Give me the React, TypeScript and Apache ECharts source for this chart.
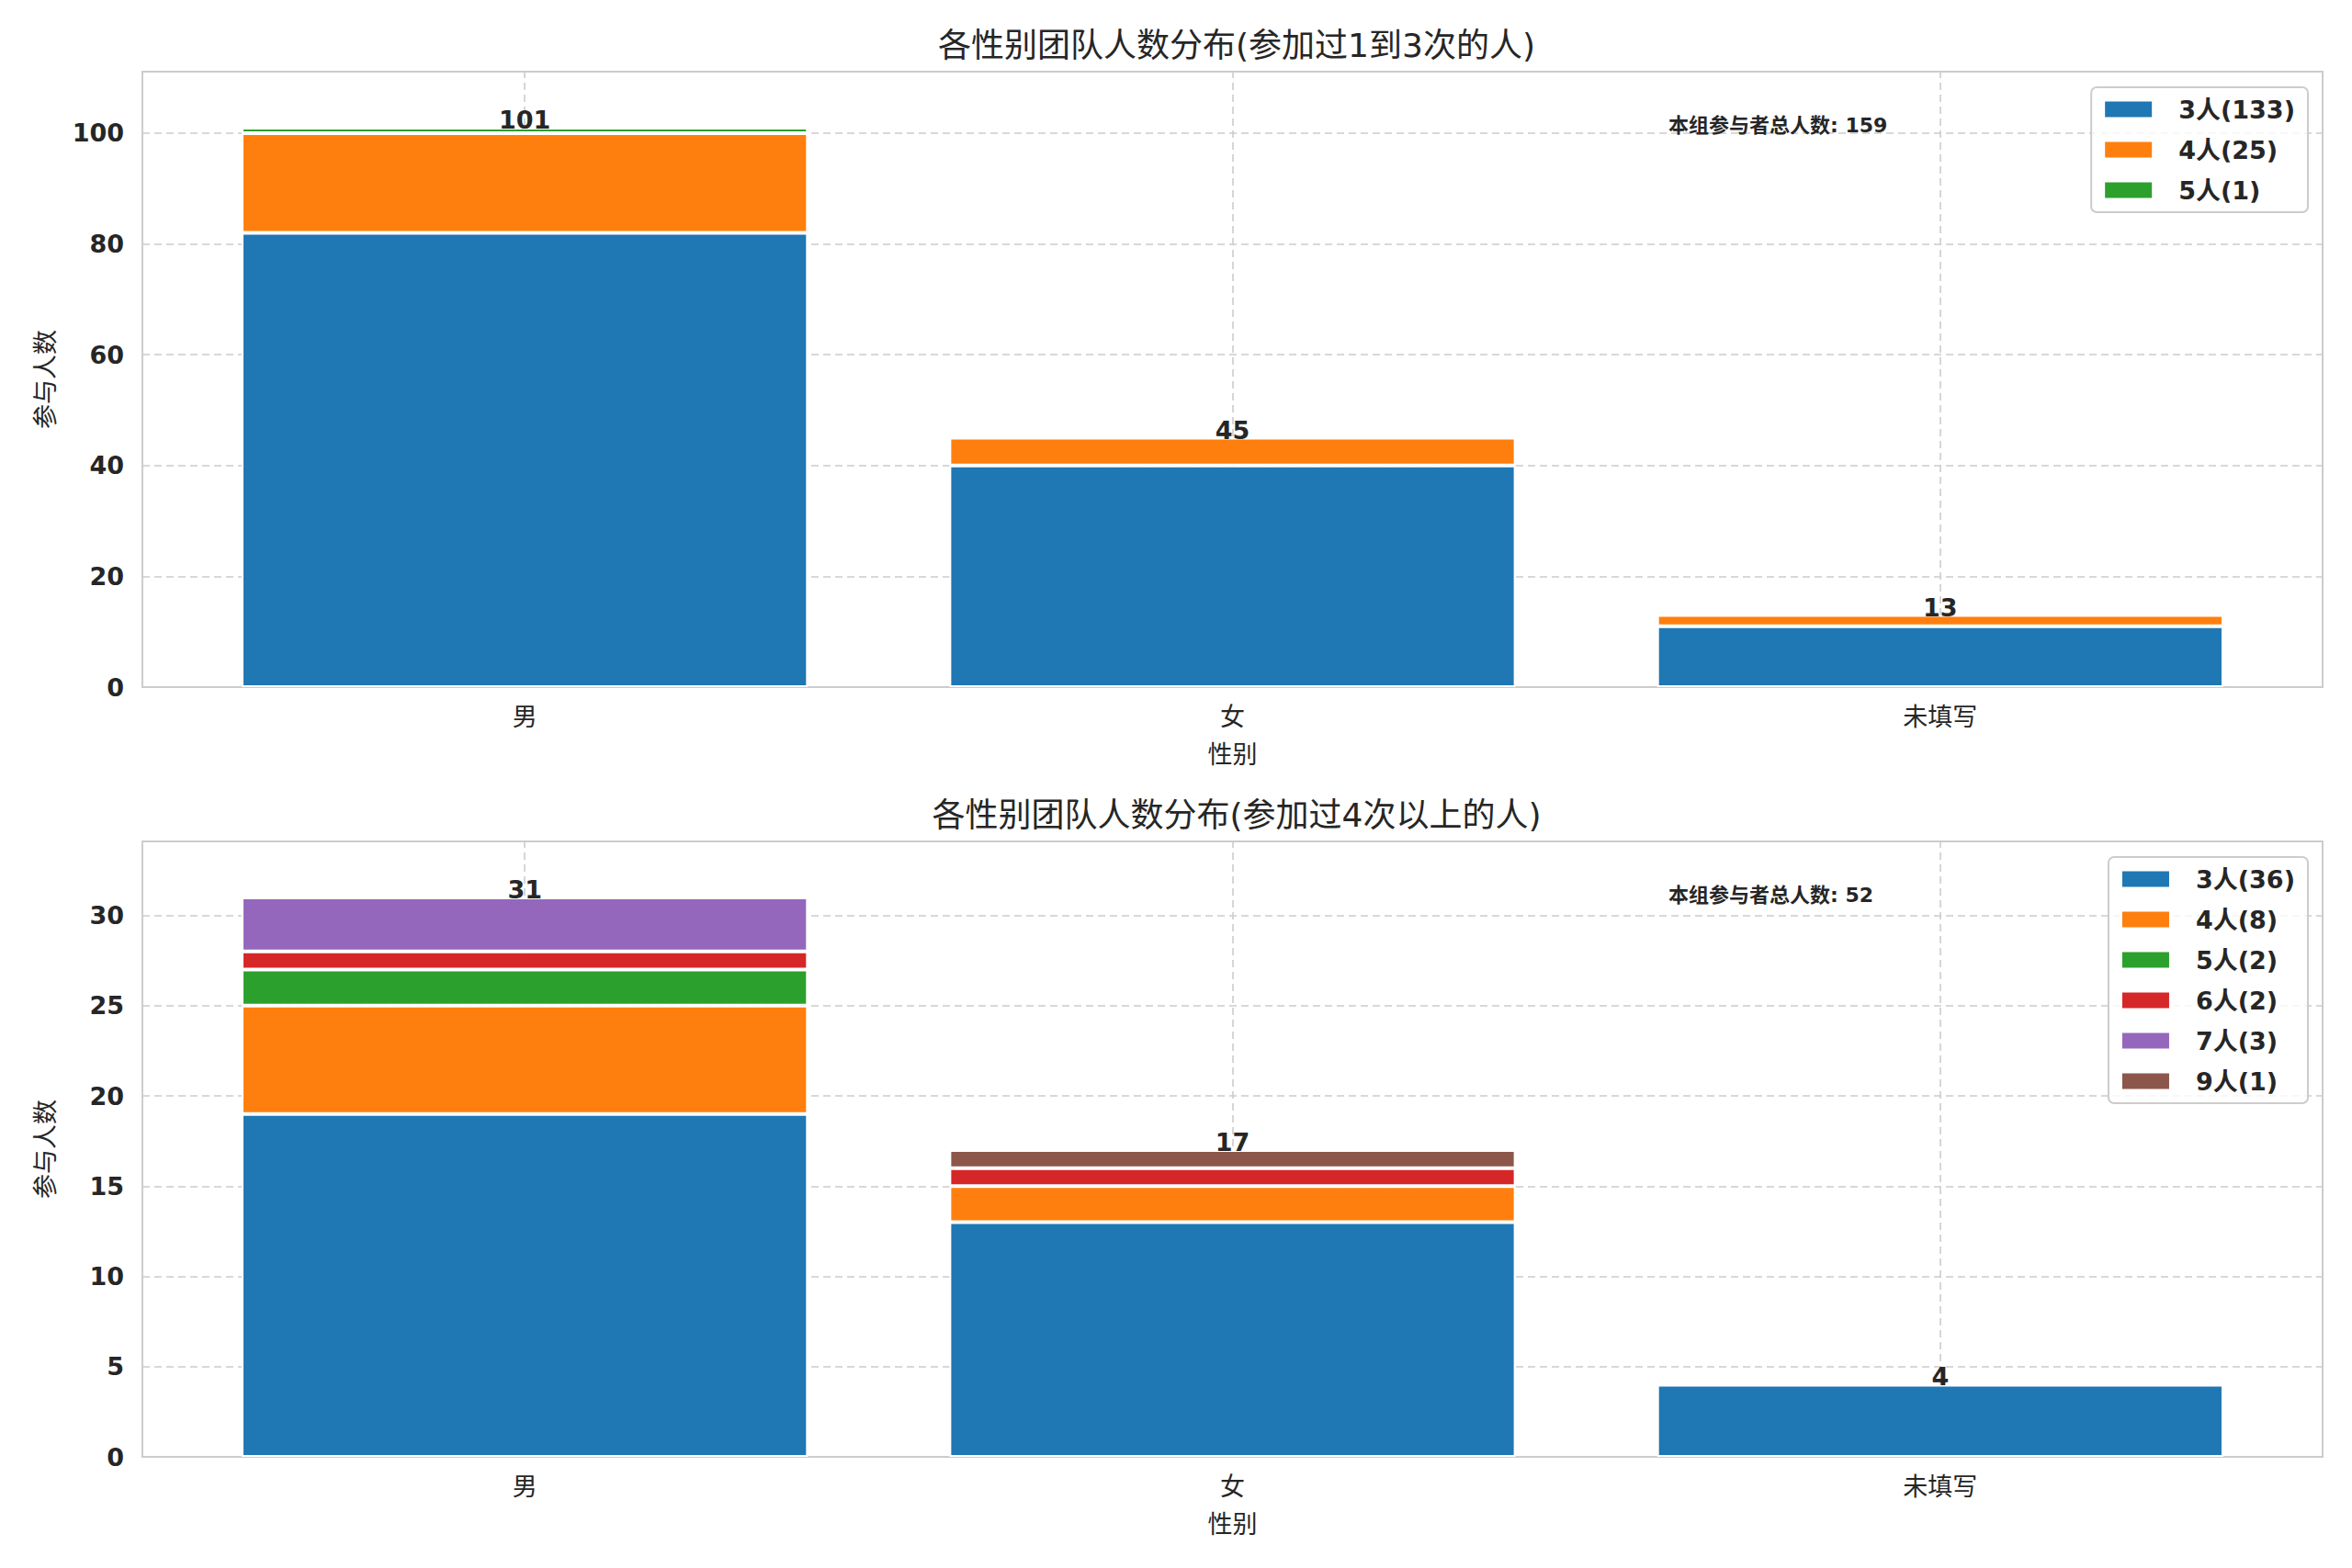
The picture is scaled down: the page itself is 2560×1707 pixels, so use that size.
import React, { useEffect, useRef } from 'react';
import * as echarts from 'echarts';

const categories = ['男', '女', '未填写'];

const topTitle = '各性别团队人数分布(参加过1到3次的人)';
const bottomTitle = '各性别团队人数分布(参加过4次以上的人)';
const totalLabel = '本组参与者总人数';
const yName = '参与人数';
const xName = '性别';

const topGroups = ['3人', '4人', '5人'];
const top3 = [82, 40, 11];
const top4 = [18, 5, 2];
const top5 = [1, 0, 0];

const bottomGroups = ['3人', '4人', '5人', '6人', '7人', '9人'];
const bot3 = [19, 13, 4];
const bot4 = [6, 2, 0];
const bot5 = [2, 0, 0];
const bot6 = [1, 1, 0];
const bot7 = [3, 0, 0];
const bot9 = [0, 1, 0];

const topColors = ['#1f77b4', '#ff7f0e', '#2ca02c'];
const bottomColors = ['#1f77b4', '#ff7f0e', '#2ca02c', '#d62728', '#9467bd', '#8c564b'];

const FONT = "'DejaVu Sans', 'Noto Sans CJK SC', sans-serif";
const TXT = '#262626';
const GRIDC = '#cccccc';

function sum(a: number[]) {
  return a.reduce((s, v) => s + v, 0);
}

function buildPanel(
  p: number,
  top: number,
  title: string,
  groups: string[],
  values: number[][],
  colors: string[],
  interval: number
) {
  const frameGrid = p * 2;
  const barGrid = p * 2 + 1;
  const totals = categories.map((_, j) => values.reduce((s, arr) => s + arr[j], 0));
  const maxY = Math.max(...totals) * 1.1;
  const names = groups.map((g, k) => `${g}(${sum(values[k])})`);
  const dash = { type: [8, 5], color: GRIDC, width: 1.6 };
  const grids = [
    {
      left: 155,
      top,
      width: 2373,
      height: 670,
      show: true,
      borderColor: GRIDC,
      borderWidth: 2,
      backgroundColor: 'rgba(0,0,0,0)',
    },
    { left: 186, top, width: 2311, height: 670 },
  ];
  const xAxes = [
    { type: 'value', gridIndex: frameGrid, min: 0, max: 1, show: false },
    {
      type: 'category',
      gridIndex: barGrid,
      data: categories,
      boundaryGap: true,
      axisLine: { show: false },
      axisTick: { show: false },
      axisLabel: { interval: 0, fontSize: 27, color: TXT, fontFamily: FONT, margin: 19 },
      splitLine: { show: false },
      name: xName,
      nameLocation: 'middle',
      nameGap: 60,
      nameTextStyle: { fontSize: 27, color: TXT, fontFamily: FONT },
    },
  ];
  const yAxes = [
    {
      type: 'value',
      gridIndex: frameGrid,
      min: 0,
      max: maxY,
      interval,
      axisLine: { show: false },
      axisTick: { show: false },
      axisLabel: {
        fontSize: 27,
        fontWeight: 'bold',
        color: TXT,
        fontFamily: FONT,
        margin: 20,
        showMaxLabel: false,
        formatter: (v: number) => (Math.abs(v - maxY) < 1e-6 ? '' : String(v)),
      },
      splitLine: { show: true, lineStyle: dash },
      name: yName,
      nameLocation: 'middle',
      nameRotate: 90,
      nameGap: 92,
      nameTextStyle: { fontSize: 27, color: TXT, fontFamily: FONT },
    },
    { type: 'value', gridIndex: barGrid, min: 0, max: maxY, show: false, splitLine: { show: false } },
  ];
  const series: any[] = [
    {
      type: 'scatter',
      xAxisIndex: barGrid,
      yAxisIndex: barGrid,
      symbolSize: 0,
      silent: true,
      z: 0,
      data: [],
      markLine: {
        silent: true,
        z: 0,
        symbol: ['none', 'none'],
        label: { show: false },
        lineStyle: dash,
        emphasis: { disabled: true },
        data: categories.map((c) => ({ xAxis: c })),
      },
    },
  ];
  values.forEach((arr, k) =>
    series.push({
      type: 'bar',
      name: names[k],
      xAxisIndex: barGrid,
      yAxisIndex: barGrid,
      stack: `stack${p}`,
      barWidth: '80%',
      itemStyle: { color: colors[k], borderColor: '#ffffff', borderWidth: 2 },
      data: arr.map((v) => (v > 0 ? v : { value: 0, itemStyle: { borderWidth: 0 } })),
      z: 2,
    })
  );
  series.push({
    type: 'scatter',
    xAxisIndex: barGrid,
    yAxisIndex: barGrid,
    symbolSize: 0,
    silent: true,
    z: 5,
    itemStyle: { opacity: 1 },
    data: totals,
    label: {
      show: true,
      position: 'top',
      distance: 0,
      offset: [0, 5],
      fontSize: 27,
      fontWeight: 'bold',
      color: TXT,
      fontFamily: FONT,
      formatter: (prm: any) => String(prm.value),
    },
  });
  const titleOpt = {
    text: title,
    left: 1341,
    top: top - 52,
    textAlign: 'center',
    textStyle: { fontSize: 36, fontWeight: 'normal', color: TXT, fontFamily: FONT },
  };
  const legend = {
    data: names,
    orient: 'vertical',
    right: 48,
    top: top + 17,
    itemWidth: 53,
    itemHeight: 19,
    itemGap: 12,
    icon: 'rect',
    padding: [8, 14, 8, 13],
    backgroundColor: 'rgba(255,255,255,0.8)',
    borderColor: GRIDC,
    borderWidth: 2,
    borderRadius: 6,
    textStyle: {
      fontSize: 27,
      fontWeight: 'bold',
      color: TXT,
      fontFamily: FONT,
      lineHeight: 32,
      padding: [0, 0, 0, 23],
    },
  };
  const annotation = {
    type: 'text',
    left: 1816,
    top: top + 47,
    z: 10,
    style: {
      text: `${totalLabel}: ${sum(totals)}`,
      fill: TXT,
      font: `bold 22px ${FONT}`,
    },
  };
  return { grids, xAxes, yAxes, series, titleOpt, legend, annotation };
}

export default function App() {
  const ref = useRef<HTMLDivElement>(null);
  useEffect(() => {
    document.body.style.margin = '0';
    const chart = echarts.init(ref.current!, null, { renderer: 'svg' });
    const a = buildPanel(0, 78, topTitle, topGroups, [top3, top4, top5], topColors, 20);
    const b = buildPanel(
      1,
      916,
      bottomTitle,
      bottomGroups,
      [bot3, bot4, bot5, bot6, bot7, bot9],
      bottomColors,
      5
    );
    chart.setOption({
      animation: false,
      backgroundColor: '#ffffff',
      textStyle: { fontFamily: FONT },
      title: [a.titleOpt, b.titleOpt],
      legend: [a.legend, b.legend],
      grid: [...a.grids, ...b.grids],
      xAxis: [...a.xAxes, ...b.xAxes],
      yAxis: [...a.yAxes, ...b.yAxes],
      series: [...a.series, ...b.series],
      graphic: [a.annotation, b.annotation],
    });
    return () => chart.dispose();
  }, []);
  return <div ref={ref} style={{ width: 2560, height: 1707 }} />;
}
